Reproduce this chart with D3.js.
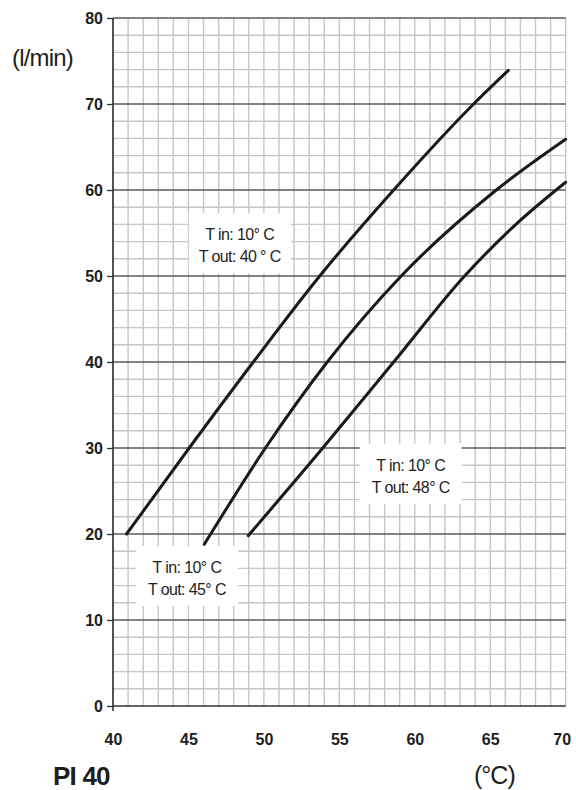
<!DOCTYPE html>
<html>
<head>
<meta charset="utf-8">
<script src="https://cdn.jsdelivr.net/npm/d3@7"></script>
<style>
  html, body { margin: 0; padding: 0; background: #fff; }
  svg { display: block; font-family: "Liberation Sans", Arial, sans-serif; }
</style>
</head>
<body>
<div id="chart"></div>
<script>
// ── Data ─────────────────────────────────────────────────────────────────
const xTicks = [40, 45, 50, 55, 60, 65, 70];
const yTicks = [0, 10, 20, 30, 40, 50, 60, 70, 80];

// flow (l/min) vs temperature (°C)
const curve40 = [
    { x: 40.9, y: 20 }, { x: 45.05, y: 30 }, { x: 49.3, y: 40 },
    { x: 53.7, y: 50 }, { x: 58.6, y: 60 }, { x: 63.9, y: 70 }, { x: 66.2, y: 73.9 }
];
const curve45 = [
    { x: 46.05, y: 18.8 }, { x: 50.1, y: 30 }, { x: 54.2, y: 40 },
    { x: 59.1, y: 50 }, { x: 65.4, y: 60 }, { x: 70, y: 65.9 }
];
const curve48 = [
    { x: 48.96, y: 19.8 }, { x: 53.9, y: 30 }, { x: 58.6, y: 40 },
    { x: 63.3, y: 50 }, { x: 66.7, y: 56 }, { x: 70, y: 60.9 }
];
const curves = [curve40, curve45, curve48];

const labels = [
    { lines: ['T in: 10° C', 'T out: 40 ° C'], x: 48.4, y: 53.7 },
    { lines: ['T in: 10° C', 'T out: 45° C'], x: 44.9, y: 15.0 },
    { lines: ['T in: 10° C', 'T out: 48° C'], x: 59.73, y: 26.9 }
];

// ── Layout ────────────────────────────────────────────────────────────────
const width = 576, height = 790;
const margin = { top: 18, right: 10, bottom: 84, left: 113 };
const innerW = width - margin.left - margin.right;
const innerH = height - margin.top - margin.bottom;

const x = d3.scaleLinear().domain([40, 70]).range([0, innerW - 0.3]);
const y = d3.scaleLinear().domain([0, 80]).range([innerH, 0]);

const svg = d3.select('#chart').append('svg')
    .attr('width', width).attr('height', height);

const g = svg.append('g')
    .attr('transform', 'translate(' + margin.left + ',' + margin.top + ')');

// ── Grid ──────────────────────────────────────────────────────────────────
const minorX = d3.range(40, 71, 1);
const minorY = d3.range(0, 81, 2).filter(v => v % 10 !== 0);

g.append('g').selectAll('line')
    .data(minorX).join('line')
    .attr('x1', d => x(d)).attr('x2', d => x(d))
    .attr('y1', 0).attr('y2', innerH)
    .attr('stroke', '#c6c6c6').attr('stroke-width', 1.4);

g.append('g').selectAll('line')
    .data(minorY).join('line')
    .attr('x1', 0).attr('x2', x(70))
    .attr('y1', d => y(d)).attr('y2', d => y(d))
    .attr('stroke', '#c6c6c6').attr('stroke-width', 1.4);

g.append('g').selectAll('line')
    .data(yTicks.filter(v => v > 0)).join('line')
    .attr('x1', 0).attr('x2', x(70))
    .attr('y1', d => y(d)).attr('y2', d => y(d))
    .attr('stroke', '#5a5a5a').attr('stroke-width', 1.5);

// ── Label boxes (white, drawn over the grid) ──────────────────────────────
const labelG = g.append('g');
labels.forEach(function (lb) {
    const cx = x(lb.x), cy = y(lb.y);
    labelG.append('rect')
        .attr('x', cx - 51).attr('y', cy - 31)
        .attr('width', 102).attr('height', 60)
        .attr('fill', '#fff');
    lb.lines.forEach(function (t, i) {
        labelG.append('text')
            .attr('x', cx).attr('y', cy - 4 + i * 22)
            .attr('text-anchor', 'middle')
            .style('font-size', '16px').style('letter-spacing', '-0.6px')
            .style('fill', '#1e1e1e')
            .text(t);
    });
});

// ── Curves ────────────────────────────────────────────────────────────────
const line = d3.line()
    .x(d => x(d.x)).y(d => y(d.y))
    .curve(d3.curveMonotoneX);

g.selectAll('.curve')
    .data(curves).join('path')
    .attr('class', 'curve')
    .attr('d', line)
    .attr('fill', 'none')
    .attr('stroke', '#1a1a1a').attr('stroke-width', 3)
    .attr('stroke-linecap', 'round');

// ── Axes ──────────────────────────────────────────────────────────────────
const yAxis = g.append('g')
    .call(d3.axisLeft(y).tickValues(yTicks).tickSize(6).tickPadding(4).tickFormat(d3.format('d')));
yAxis.select('.domain').remove();
yAxis.selectAll('line').attr('stroke', '#333').attr('stroke-width', 1.3);
yAxis.selectAll('text')
    .style('font-size', '16px').style('font-weight', '700')
    .style('font-family', '"Liberation Sans", Arial, sans-serif')
    .style('fill', '#1e1e1e');

g.append('line')
    .attr('x1', 0).attr('x2', 0).attr('y1', 0).attr('y2', innerH + 5)
    .attr('stroke', '#333').attr('stroke-width', 1.6);
g.append('line')
    .attr('x1', 0).attr('x2', x(70)).attr('y1', innerH).attr('y2', innerH)
    .attr('stroke', '#333').attr('stroke-width', 1.6);

const xAxis = g.append('g')
    .attr('transform', 'translate(0,' + innerH + ')')
    .call(d3.axisBottom(x).tickValues(xTicks).tickSize(0).tickPadding(28).tickFormat(d3.format('d')));
xAxis.select('.domain').remove();
xAxis.selectAll('text')
    .style('font-size', '16px').style('font-weight', '700')
    .style('font-family', '"Liberation Sans", Arial, sans-serif')
    .style('fill', '#1e1e1e')
    .attr('dx', d => d === 70 ? '-4' : '0');

// ── Titles ────────────────────────────────────────────────────────────────
svg.append('text')
    .attr('x', 12).attr('y', 66)
    .style('font-size', '24px').style('letter-spacing', '-0.8px').style('fill', '#1e1e1e')
    .text('(l/min)');

svg.append('text')
    .attr('x', 53).attr('y', 785)
    .style('font-size', '26px').style('font-weight', '700').style('letter-spacing', '-0.8px')
    .style('fill', '#1e1e1e')
    .text('PI 40');

svg.append('text')
    .attr('x', 474).attr('y', 784)
    .style('font-size', '25px').style('letter-spacing', '-1px').style('fill', '#1e1e1e')
    .text('(°C)');
</script>
</body>
</html>
